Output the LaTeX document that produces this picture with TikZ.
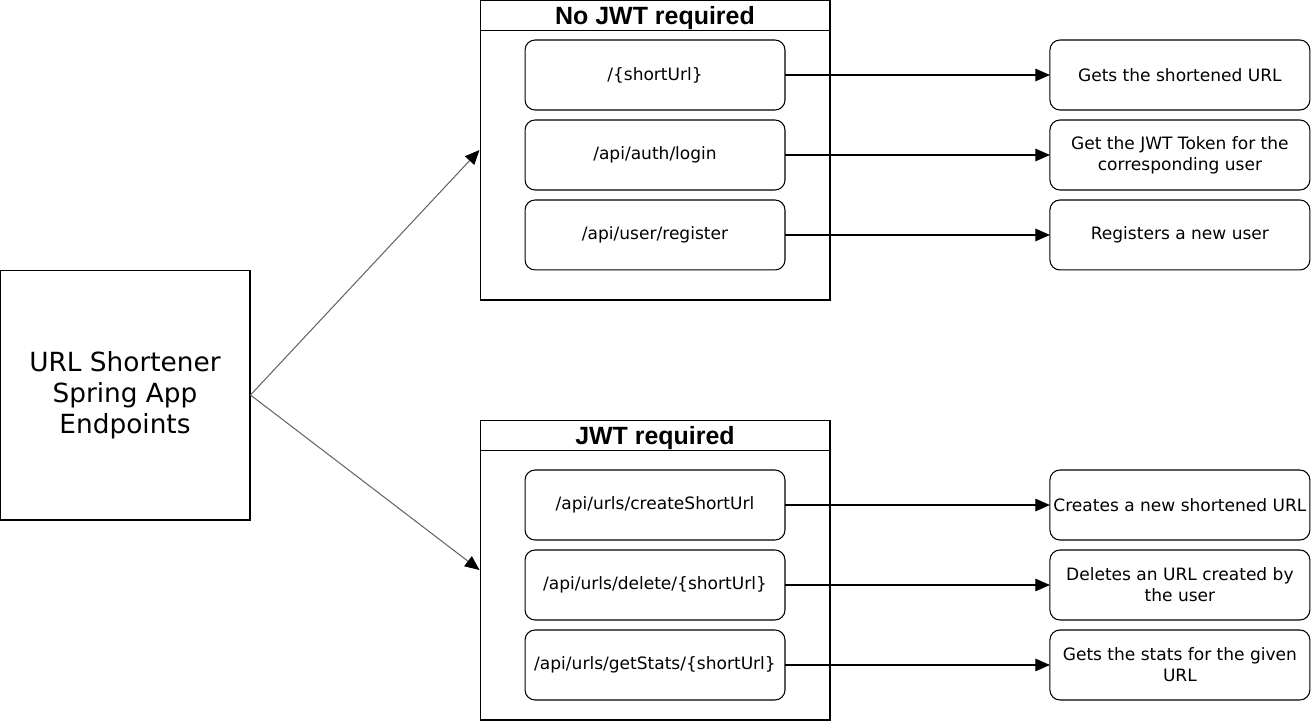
\documentclass[tikz,border=0pt]{standalone}
\usepackage{fontspec}
\setmainfont{DejaVu Sans}
\newfontfamily\headfont{Liberation Sans}
\usetikzlibrary{arrows.meta,positioning}

\begin{document}
\begin{tikzpicture}[
    x=0.02cm, y=-0.02cm,
    font=\fontsize{9.7}{11.9}\selectfont,
    app/.style={draw=black, line width=0.6pt, minimum width=5cm, minimum height=5cm,
                align=center, font=\fontsize{15}{17.6}\selectfont},
    group/.style={draw=black, line width=0.6pt, minimum width=7cm, minimum height=6cm},
    grouphead/.style={draw=black, line width=0.6pt, minimum width=7cm, minimum height=0.6cm,
                      anchor=north, inner sep=0pt, text depth=0pt,
                      font=\headfont\bfseries\fontsize{14.2}{16}\selectfont},
    endpoint/.style={draw=black, line width=0.6pt, rounded corners=0.2cm, outer sep=0pt,
                     minimum width=5.2cm, minimum height=1.4cm, align=center, inner sep=1pt},
    result/.style={endpoint},
    arrow/.style={-{Triangle[length=0.29cm, width=0.25cm]}, line width=0.6pt, black},
    branch/.style={-{Triangle[length=0.29cm, width=0.25cm, color=black]}, line width=0.6pt, black!60}
]
\useasboundingbox (0,0) rectangle (1311,721);

\node[app] (app) at (125,395) {URL Shortener\\Spring App\\Endpoints};

% endpoints without a token
\node[group] (open) at (655,150) {};
\node[grouphead] (openhead) at (open.north) {No JWT required};
\node[endpoint] (short) at (655,75) {/\{shortUrl\}};
\node[endpoint, below=0.2cm of short] (login) {/api/auth/login};
\node[endpoint, below=0.2cm of login] (register) {/api/user/register};
\node[result, right=5.3cm of short] (getsurl) {Gets the shortened URL};
\node[result, right=5.3cm of login] (gettoken) {Get the JWT Token for the\\corresponding user};
\node[result, right=5.3cm of register] (newuser) {Registers a new user};

% endpoints with a token
\node[group] (secure) at (655,570) {};
\node[grouphead] (securehead) at (secure.north) {JWT required};
\node[endpoint] (create) at (655,505) {/api/urls/createShortUrl};
\node[endpoint, below=0.2cm of create] (delete) {/api/urls/delete/\{shortUrl\}};
\node[endpoint, below=0.2cm of delete] (stats) {/api/urls/getStats/\{shortUrl\}};
\node[result, right=5.3cm of create] (newurl) {Creates a new shortened URL};
\node[result, right=5.3cm of delete] (delurl) {Deletes an URL created by\\the user};
\node[result, right=5.3cm of stats] (getstats) {Gets the stats for the given\\URL};

\draw[branch] (app.east) -- (open.west);
\draw[branch] (app.east) -- (secure.west);
\draw[arrow] (short) -- (getsurl);
\draw[arrow] (login) -- (gettoken);
\draw[arrow] (register) -- (newuser);
\draw[arrow] (create) -- (newurl);
\draw[arrow] (delete) -- (delurl);
\draw[arrow] (stats) -- (getstats);
\end{tikzpicture}
\end{document}
